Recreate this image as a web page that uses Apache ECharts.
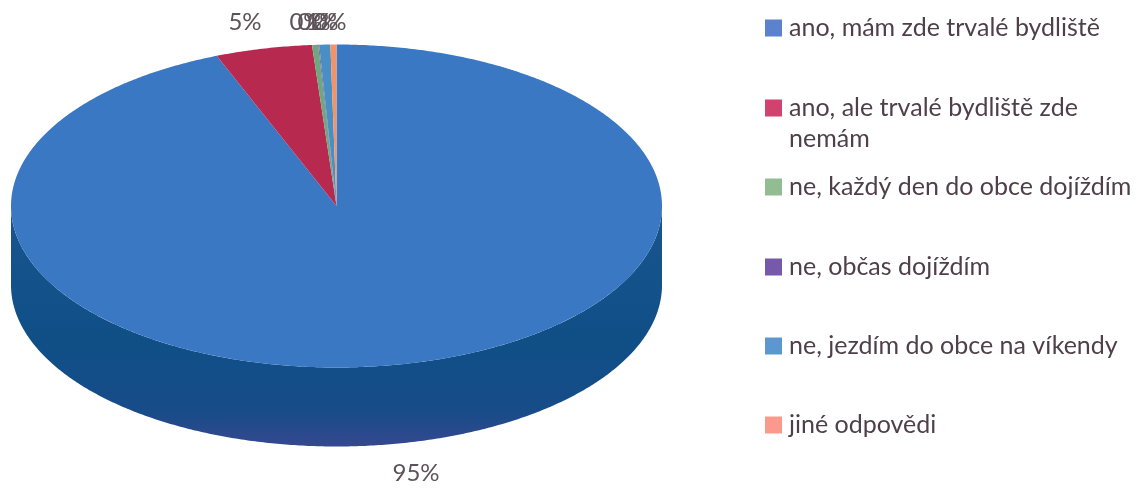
<!DOCTYPE html>
<html><head><meta charset="utf-8">
<style>html,body{margin:0;padding:0;background:#fff}#c{width:1143px;height:489px}</style>
<script src="https://cdn.jsdelivr.net/npm/echarts@6/dist/echarts.min.js"></script>
</head><body><div id="c"></div>
<script>
const categories = ['ano, mám zde trvalé bydliště','ano, ale trvalé bydliště zde\nnemám','ne, každý den do obce dojíždím','ne, občas dojíždím','ne, jezdím do obce na víkendy','jiné odpovědi'];
const values = [94.0, 4.8, 0.3, 0.05, 0.55, 0.3];
const pctLabels = ['95%','5%','0%','0%','1%','0%'];
const sliceColors = ['#3a78c3','#b7294f','#6ea87e','#7a5eaa','#4a8fc4','#f2946a'];
const legendColors = ['#5b82cd','#d2426e','#92bd93','#7659ab','#5c97cf','#fb9a8c'];
const legendTops = [12.5, 61.5, 171.5, 251.5, 330.5, 409.5];

const G = {cx:336.5, cy:206, rx:325.5, ry:161.5, depth:79};
const labelPos = [[416,473],[245,22],[306,22],[314,22],[322,22],[330,22]];
const total = values.reduce((a,b)=>a+b,0);
const pt = (deg,dy)=>{const r=deg*Math.PI/180;return [G.cx+G.rx*Math.sin(r),G.cy-G.ry*Math.cos(r)+(dy||0)];};
const series = categories.map((name,i)=>({
  type:'custom', name, coordinateSystem:'none', silent:true, animation:false, z:2,
  itemStyle:{color:legendColors[i]},
  data:[[values[i]]],
  renderItem(){
    const before = values.slice(0,i).reduce((a,b)=>a+b,0);
    const a0 = before/total*360, a1 = (before+values[i])/total*360;
    const children=[];
    const wa0=Math.max(a0,90), wa1=Math.min(a1,270);
    if(wa1>wa0){
      const up=[],down=[];
      for(let a=wa0;a<=wa1+1e-6;a+=0.5){up.push(pt(a,0));down.unshift(pt(a,G.depth));}
      children.push({type:'polygon',z2:1,shape:{points:up.concat(down)},style:{
        fill:{type:'linear',x:0,y:0,x2:0,y2:1,colorStops:[{offset:0,color:'#1a5590'},{offset:0.55,color:'#0f4f86'},{offset:0.85,color:'#174c89'},{offset:1,color:'#35488f'}]}}});
    }
    const top=[[G.cx,G.cy]];
    const steps=Math.max(2,Math.ceil((a1-a0)/0.5));
    for(let k=0;k<=steps;k++) top.push(pt(a0+(a1-a0)*k/steps));
    children.push({type:'polygon',z2:2,shape:{points:top},style:{fill:sliceColors[i]}});
    children.push({type:'text',z2:5,x:labelPos[i][0],y:labelPos[i][1],style:{text:pctLabels[i],fill:'#5d5258',font:'24px Lato',align:'center',verticalAlign:'middle'}});
    return {type:'group',children};
  }
}));
const legend = categories.map((name,i)=>({
  left:765, top:legendTops[i], orient:'vertical', itemWidth:17, itemHeight:17, itemGap:0, selectedMode:false,
  icon:'rect', data:[name], padding:0,
  formatter:n=>n.includes('\n')?'\n'+n:n,
  textStyle:{color:'#4e3f48',fontFamily:'Lato',fontSize:25,lineHeight:31,padding:[0,0,0,2]}
}));
const chart = echarts.init(document.getElementById('c'),null,{renderer:'canvas'});
chart.setOption({backgroundColor:'#ffffff',animation:false,tooltip:{show:false},legend,series});
</script></body></html>
